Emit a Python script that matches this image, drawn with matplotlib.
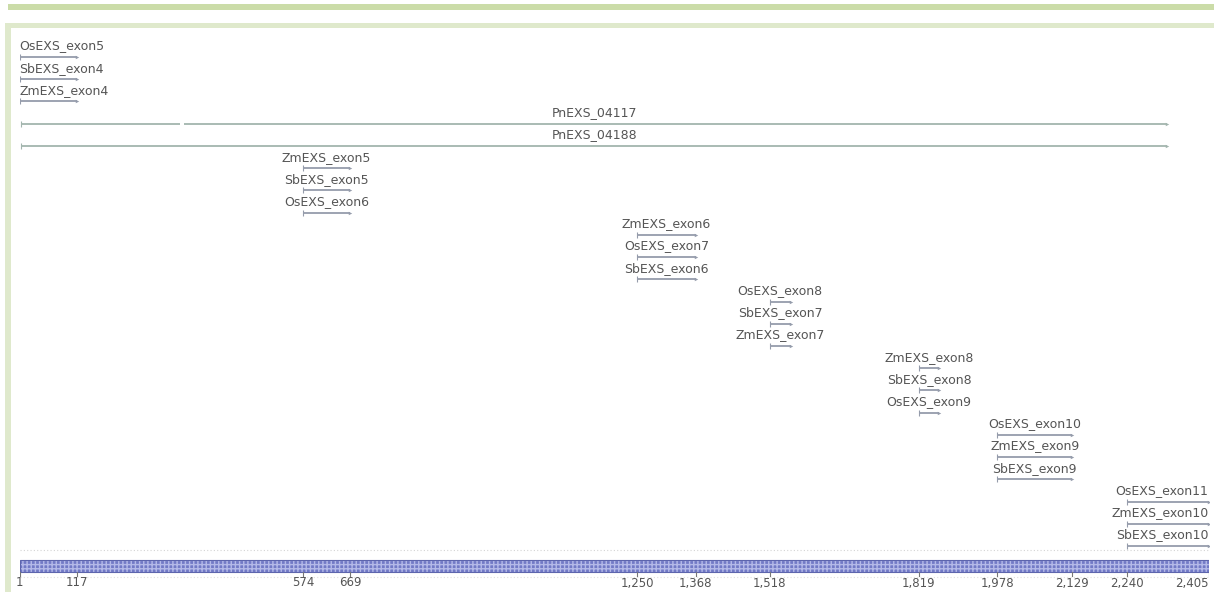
import matplotlib.pyplot as plt
from matplotlib.patches import Rectangle

# Feature track: one row per feature, (start, end) in bp
names = [
    "OsEXS_exon5", "SbEXS_exon4", "ZmEXS_exon4",
    "PnEXS_04117", "PnEXS_04188",
    "ZmEXS_exon5", "SbEXS_exon5", "OsEXS_exon6",
    "ZmEXS_exon6", "OsEXS_exon7", "SbEXS_exon6",
    "OsEXS_exon8", "SbEXS_exon7", "ZmEXS_exon7",
    "ZmEXS_exon8", "SbEXS_exon8", "OsEXS_exon9",
    "OsEXS_exon10", "ZmEXS_exon9", "SbEXS_exon9",
    "OsEXS_exon11", "ZmEXS_exon10", "SbEXS_exon10",
]
starts = [1, 1, 1, 5, 5, 574, 574, 574, 1250, 1250, 1250,
          1518, 1518, 1518, 1819, 1819, 1819, 1978, 1978, 1978,
          2240, 2240, 2240]
ends = [117, 117, 117, 2322, 2322, 669, 669, 669, 1368, 1368, 1368,
        1560, 1560, 1560, 1861, 1861, 1861, 2129, 2129, 2129,
        2405, 2405, 2405]
# gaps inside a feature (row index -> (gap start, gap end))
gaps = {3: (326, 333)}

seq_len = 2405
ruler_ticks = [1, 117, 574, 669, 1250, 1368, 1518, 1819, 1978, 2129, 2240, 2405]

W, H = 1214, 592
fig = plt.figure(figsize=(W / 100, H / 100), dpi=100)

# page frame
bg = fig.add_axes([0, 0, 1, 1])
bg.set_xlim(0, W)
bg.set_ylim(H, 0)
bg.axis("off")
bg.add_patch(Rectangle((8, 4), W - 8, 6, color="#cbdca8", lw=0))
bg.add_patch(Rectangle((5, 23), W - 5, 5, color="#dfe9cc", lw=0))
bg.add_patch(Rectangle((5, 23), 6, H - 23, color="#dfe9cc", lw=0))

x_left, x_right = 19.5, 1208.5


def px_axes(top, bottom):
    return fig.add_axes([x_left / W, (H - bottom) / H,
                         (x_right - x_left) / W, (bottom - top) / H])


# feature rows
row_h = 22.23
ax = px_axes(32, 552)
ax.set_xlim(1, seq_len)
ax.set_ylim((552 - 57) / row_h, (32 - 57) / row_h)
ax.axis("off")

line_col = "#959cab"
for i, (name, s, e) in enumerate(zip(names, starts, ends)):
    col = "#a3b5ae" if name.startswith("Pn") else line_col
    if i in gaps:
        g0, g1 = gaps[i]
        ax.plot([s, g0], [i, i], color=col, lw=1.3, solid_capstyle="butt")
        ax.plot([g1, e], [i, i], color=col, lw=1.3, solid_capstyle="butt")
    else:
        ax.plot([s, e], [i, i], color=col, lw=1.3, solid_capstyle="butt")
    ax.plot([s], [i], marker="|", ms=4, color=col, mew=0.8)
    ax.plot([e], [i], marker=">", ms=2.5, color=col, mew=0)
    # keep labels inside the track at both ends
    if e >= seq_len:
        x, ha = e, "right"
    elif s <= 1:
        x, ha = s, "left"
    else:
        x, ha = (s + e) / 2, "center"
    ax.text(x, i - 0.5, name, ha=ha, va="center", fontsize=9,
            color="#555555", clip_on=False)

# sequence ruler
rax = px_axes(548, 592)
rax.set_xlim(1, seq_len)
rax.set_ylim(44, 0)
rax.axis("off")
rax.plot([1, seq_len], [2, 2], color="#d4d4d4", lw=0.8, ls=(0, (1, 2)))
rax.plot([1, seq_len], [29, 29], color="#e0e0e0", lw=0.8, ls=(0, (1, 2)))
rax.add_patch(Rectangle((1, 12), seq_len - 1, 12, facecolor="#727ac6",
                        edgecolor="#b4b9e8", hatch="++++", lw=0))
rax.add_patch(Rectangle((1, 12), seq_len - 1, 12, facecolor="none",
                        edgecolor="#5d65ad", lw=0.8))
for t in ruler_ticks:
    rax.plot([t, t], [24, 28], color="#777777", lw=0.8)
    ha = "right" if t == seq_len else "center"
    rax.text(t, 35, f"{t:,}", ha=ha, va="center", fontsize=8.5,
             color="#555555", clip_on=False)

fig.savefig("out.png", dpi=100)
